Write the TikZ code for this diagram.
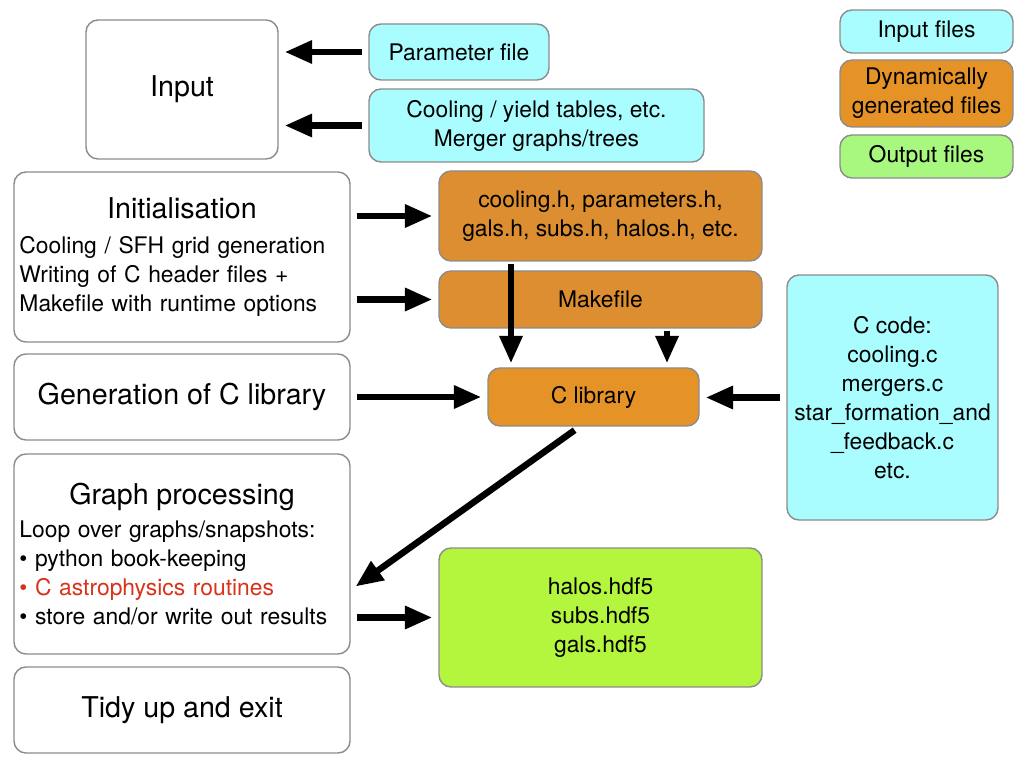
\documentclass[tikz,border=0pt]{standalone}
\usepackage{fontspec}
\setmainfont{TeX Gyre Heros}
\usetikzlibrary{arrows.meta}
\definecolor{infile}{RGB}{170,253,255}
\definecolor{genfile}{RGB}{220,142,48}
\definecolor{libfile}{RGB}{229,147,38}
\definecolor{outfile}{RGB}{180,245,62}
\definecolor{outkey}{RGB}{168,248,128}
\definecolor{boxline}{RGB}{140,140,140}
\definecolor{astro}{RGB}{217,50,26}
\newcommand{\bigtxt}{\fontsize{16.3}{19}\selectfont}
\newcommand{\boxtitle}[1]{\hspace*{\fill}{\bigtxt #1}\hspace*{\fill}\null}
\tikzset{
  >={Triangle[length=5.5mm,width=4.4mm]},
  {base box/.style} ={rectangle, rounded corners=2.4mm, draw=boxline,
                      line width=0.8pt, inner sep=0, align=center,
                      font=\fontsize{13}{16.5}\selectfont},
  {step box/.style} ={base box, fill=white},
  {wide step/.style} ={step box, minimum width=6.72cm},
  {text box/.style} ={wide step, text width=6.5cm, align=left},
  {in box/.style} ={base box, fill=infile},
  {gen box/.style} ={base box, fill=genfile, minimum width=6.46cm},
  {lib box/.style} ={base box, fill=libfile},
  {key box/.style} ={base box, minimum width=3.46cm},
  {flow/.style} ={line width=1.3mm, ->, shorten <=1.2mm, shorten >=1.2mm},
}

\begin{document}
\begin{tikzpicture}
\useasboundingbox (0,0) rectangle (20.48,-15.36);
% pipeline steps
\node[step box, minimum width=3.84cm, minimum height=2.78cm, font=\bigtxt] (input) at (3.64,-1.79) {Input};
\node[text box, minimum height=3.40cm] (init) at (3.64,-5.14)
  {\boxtitle{Initialisation}\\[3pt]
   Cooling / SFH grid generation\\
   Writing of C header files +\\
   Makefile with runtime options};
\node[wide step, minimum height=1.72cm, font=\bigtxt] (gen) at (3.64,-7.94) {Generation of C library};
\node[text box, minimum height=4.00cm] (graph) at (3.64,-11.08)
  {\boxtitle{Graph processing}\\[2.5pt]
   Loop over graphs/snapshots:\\
   • python book-keeping\\
   {\color{astro}• C astrophysics routines}\\
   • store and/or write out results};
\node[wide step, minimum height=1.72cm, font=\bigtxt] (tidy) at (3.64,-14.20) {Tidy up and exit};
% files
\node[in box, minimum width=3.60cm, minimum height=1.12cm] (param) at (9.18,-1.04) {Parameter file};
\node[in box, minimum width=6.70cm, minimum height=1.46cm] (tables) at (10.73,-2.51)
  {Cooling / yield tables, etc.\\Merger graphs/trees};
\node[gen box, minimum height=1.80cm] (headers) at (12.01,-4.32)
  {cooling.h, parameters.h,\\gals.h, subs.h, halos.h, etc.};
\node[gen box, minimum height=1.14cm] (make) at (12.01,-5.99) {Makefile};
\node[lib box, minimum width=4.22cm, minimum height=1.16cm] (clib) at (11.87,-7.94) {C library};
\node[in box, minimum width=4.22cm, minimum height=4.90cm] (ccode) at (17.85,-7.95)
  {C code:\\cooling.c\\mergers.c\\star\_formation\_and\\\_feedback.c\\etc.};
\node[base box, fill=outfile, minimum width=6.46cm, minimum height=2.78cm] (out) at (12.01,-12.35)
  {halos.hdf5\\subs.hdf5\\gals.hdf5};
% key
\node[key box, fill=infile, minimum height=0.86cm] (keyin) at (18.53,-0.63) {Input files};
\node[key box, fill=libfile, minimum height=1.34cm] (keygen) at (18.53,-1.87) {Dynamically\\generated files};
\node[key box, fill=outkey, minimum height=0.86cm] (keyout) at (18.53,-3.13) {Output files};
% arrows
\draw[flow] (param.west) -- (param.west -| input.east);
\draw[flow] (tables.west) -- (tables.west -| input.east);
\draw[flow] (headers.west -| init.east) -- (headers.west);
\draw[flow] (make.west -| init.east) -- (make.west);
\draw[flow, shorten <=0.4mm, shorten >=0.8mm] ([xshift=-1.79cm]headers.south)
  -- ([xshift=-1.79cm]headers.south |- clib.north);
\draw[flow, shorten <=0.4mm, shorten >=0.8mm] ([xshift=1.33cm]make.south)
  -- ([xshift=1.33cm]make.south |- clib.north);
\draw[flow] (gen.east) -- (gen.east -| clib.west);
\draw[flow] (ccode.west) -- (ccode.west -| clib.east);
\draw[flow] ([xshift=-0.28cm]clib.south) -- ([yshift=-0.72cm]graph.east);
\draw[flow] (out.west -| graph.east) -- (out.west);
\end{tikzpicture}
\end{document}
